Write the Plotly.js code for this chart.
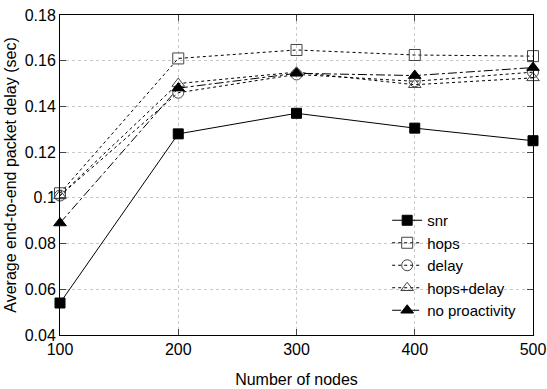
<!DOCTYPE html>
<html><head><meta charset="utf-8">
<script src="https://cdn.plot.ly/plotly-3.0.1.min.js"></script>
<style>html,body{margin:0;padding:0;background:#fff}#c{width:547px;height:389px}</style>
</head><body><div id="c"></div>
<script>
var nodes = [100, 200, 300, 400, 500];
var snr = [0.054, 0.128, 0.137, 0.1305, 0.125];
var hops = [0.102, 0.161, 0.1647, 0.1625, 0.162];
var delay = [0.101, 0.146, 0.154, 0.151, 0.155];
var hopsDelay = [0.101, 0.150, 0.155, 0.1495, 0.1525];
var noProact = [0.089, 0.148, 0.1545, 0.1535, 0.157];
var names = ['snr', 'hops', 'delay', 'hops+delay', 'no proactivity'];
var yTicks = [0.04, 0.06, 0.08, 0.1, 0.12, 0.14, 0.16, 0.18];
var yTickText = ['0.04', '0.06', '0.08', '0.1', '0.12', '0.14', '0.16', '0.18'];

function tr(y, name, dash, sym, mcol, msize) {
  return {x: nodes, y: y, name: name, type: 'scatter', mode: 'lines+markers',
    line: {color: '#000', width: 1, dash: dash},
    marker: {symbol: sym, size: msize, color: mcol, line: {color: mcol === '#000' ? '#000' : '#444', width: 1}},
    cliponaxis: false};
}
var data = [
  tr(snr, names[0], 'solid', 'square', '#000', 10),
  tr(hops, names[1], 'dot', 'square-open', '#444', 11),
  tr(delay, names[2], 'dot', 'circle-open', '#444', 11),
  tr(hopsDelay, names[3], 'dot', 'triangle-up-open', '#444', 11),
  tr(noProact, names[4], 'dashdot', 'triangle-up', '#000', 11)
];
var layout = {
  width: 547, height: 389,
  margin: {l: 60, r: 14, t: 15, b: 54},
  paper_bgcolor: '#fff', plot_bgcolor: '#fff',
  font: {family: 'Liberation Sans, Arial, sans-serif', size: 16, color: '#000'},
  showlegend: true,
  legend: {x: 0.975, y: 0.025, xanchor: 'right', yanchor: 'bottom', bgcolor: 'rgba(0,0,0,0)',
    font: {size: 15}, tracegroupgap: 0, itemwidth: 30},
  xaxis: {range: [100, 500], tickvals: nodes, ticks: 'inside', ticklen: 6, mirror: 'allticks',
    showline: true, linecolor: '#000', linewidth: 1, zeroline: false,
    showgrid: true, gridcolor: '#c8c8c8', griddash: 'dot', gridwidth: 1,
    title: {text: 'Number of nodes', font: {size: 16}, standoff: 16}},
  yaxis: {range: [0.04, 0.18], tickvals: yTicks, ticktext: yTickText, ticks: 'inside', ticklen: 6, mirror: 'allticks',
    showline: true, linecolor: '#000', linewidth: 1, zeroline: false,
    showgrid: true, gridcolor: '#c8c8c8', griddash: 'dot', gridwidth: 1,
    title: {text: 'Average end-to-end packet delay (sec)', font: {size: 16}, standoff: 4}}
};
Plotly.newPlot('c', data, layout, {displayModeBar: false, staticPlot: true});
</script></body></html>
